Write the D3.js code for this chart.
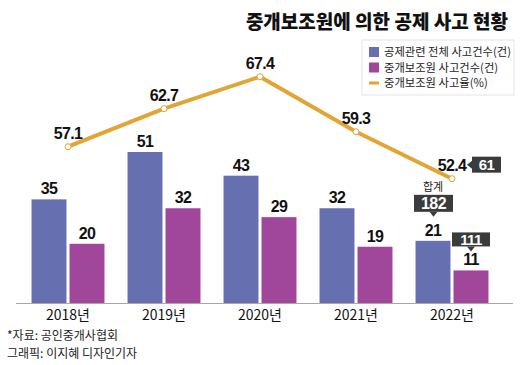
<!DOCTYPE html>
<html>
<head>
<meta charset="utf-8">
<script src="https://cdn.jsdelivr.net/npm/d3@7"></script>
<style>
  body { margin: 0; background: #fff; }
  svg { display: block; }
  .num { font-family: "Liberation Sans Narrow", "Liberation Sans", Arial, sans-serif; font-weight: bold; letter-spacing: -0.6px; }
  .kr { font-family: "Noto Sans CJK KR", sans-serif; }
</style>
</head>
<body>
<script>
(function (d3) {
  "use strict";

  /***** Données *****/
  var years = ["2018년", "2019년", "2020년", "2021년", "2022년"];
  var seriesNames = ["공제관련 전체 사고건수(건)", "중개보조원 사고건수(건)"];
  var totalCases = [35, 51, 43, 32, 21];
  var brokerCases = [20, 32, 29, 19, 11];
  var rateNames = ["중개보조원 사고율(%)"];
  var accidentRate = [57.1, 62.7, 67.4, 59.3, 52.4];
  // annotations on the last year
  var rateCallout = 61;
  var sumLabel = "합계";
  var sumTotal = 182;
  var sumBroker = 111;

  /***** Configuration *****/
  var width = 520, height = 365;
  var baseY = 303;
  var colors = ["#6670b0", "#a0479b"];
  var lineColor = "#e2a534";
  var calloutColor = "#3b3b3b";

  /***** Échelles *****/
  var x0 = d3.scaleBand().domain(years).range([20, 500]).paddingInner(0.24).paddingOuter(0.12);
  var x1 = d3.scaleBand().domain(seriesNames).range([0, x0.bandwidth()]).paddingInner(0.08);
  var yBar = d3.scaleLinear().domain([0, 51]).range([baseY, 152]);
  var yRate = d3.scaleLinear().domain([50, 70]).range([195, 59]);

  var svg = d3.select("body").append("svg")
      .attr("width", width)
      .attr("height", height);

  /***** Titre *****/
  svg.append("text")
      .attr("class", "kr")
      .attr("x", 508).attr("y", 29)
      .attr("text-anchor", "end")
      .attr("font-size", 19)
      .attr("font-weight", 900)
      .attr("fill", "#111")
      .text("중개보조원에 의한 공제 사고 현황");

  /***** Légende *****/
  var legend = svg.append("g").attr("transform", "translate(362,40)");
  legend.append("rect")
      .attr("x", 0).attr("y", 0).attr("width", 152).attr("height", 55)
      .attr("fill", "#fff").attr("stroke", "#e4e4e4");
  var legendItems = seriesNames.concat(rateNames);
  legendItems.forEach(function (name, i) {
    var g = legend.append("g").attr("transform", "translate(7," + (12 + i * 15.5) + ")");
    if (i < 2) {
      g.append("rect").attr("x", 0).attr("y", -5).attr("width", 10).attr("height", 10).attr("fill", colors[i]);
    } else {
      g.append("rect").attr("x", 0).attr("y", -1.5).attr("width", 10).attr("height", 3).attr("fill", lineColor);
    }
    g.append("text")
        .attr("class", "kr")
        .attr("x", 15).attr("y", 4)
        .attr("font-size", 11.3)
        .attr("fill", "#222")
        .text(name);
  });

  /***** Barres *****/
  var groups = svg.append("g").selectAll("g")
      .data(years)
      .join("g")
      .attr("transform", function (d) { return "translate(" + x0(d) + ",0)"; });

  var barData = function (d, i) {
    return [
      { key: seriesNames[0], value: totalCases[i], c: 0 },
      { key: seriesNames[1], value: brokerCases[i], c: 1 }
    ];
  };

  groups.selectAll("rect")
      .data(barData)
      .join("rect")
      .attr("x", function (d) { return x1(d.key); })
      .attr("y", function (d) { return yBar(d.value); })
      .attr("width", x1.bandwidth())
      .attr("height", function (d) { return baseY - yBar(d.value); })
      .attr("fill", function (d) { return colors[d.c]; });

  groups.selectAll("text.val")
      .data(barData)
      .join("text")
      .attr("class", "val num")
      .attr("x", function (d) { return x1(d.key) + x1.bandwidth() / 2; })
      .attr("y", function (d) { return yBar(d.value) - 5; })
      .attr("text-anchor", "middle")
      .attr("font-size", 16)
      .attr("fill", "#111")
      .text(function (d) { return d.value; });

  /***** Axe *****/
  svg.append("line")
      .attr("x1", 16).attr("x2", 513)
      .attr("y1", baseY + 0.5).attr("y2", baseY + 0.5)
      .attr("stroke", "#a8a8a8");

  var xAxis = d3.axisBottom(x0).tickSize(0).tickPadding(0);
  var axisG = svg.append("g")
      .attr("transform", "translate(0," + baseY + ")")
      .call(xAxis);
  axisG.select(".domain").remove();
  axisG.selectAll("text")
      .attr("dy", 17)
      .attr("font-size", 14)
      .attr("fill", "#111")
      .style("font-family", "\"Liberation Sans Narrow\", \"Noto Sans CJK KR\", sans-serif");

  /***** Ligne *****/
  var cx = function (d, i) { return x0(years[i]) + x0.bandwidth() / 2; };
  var line = d3.line()
      .x(function (d, i) { return cx(d, i); })
      .y(function (d) { return yRate(d); });

  svg.append("path")
      .datum(accidentRate)
      .attr("d", line)
      .attr("fill", "none")
      .attr("stroke", lineColor)
      .attr("stroke-width", 4)
      .attr("stroke-linejoin", "round");

  svg.selectAll("circle.pt")
      .data(accidentRate)
      .join("circle")
      .attr("class", "pt")
      .attr("cx", cx)
      .attr("cy", function (d) { return yRate(d); })
      .attr("r", 3)
      .attr("fill", "#fff")
      .attr("stroke", lineColor)
      .attr("stroke-width", 1);

  svg.selectAll("text.rate")
      .data(accidentRate)
      .join("text")
      .attr("class", "rate num")
      .attr("x", cx)
      .attr("y", function (d) { return yRate(d) - 8; })
      .attr("text-anchor", "middle")
      .attr("font-size", 16)
      .attr("fill", "#111")
      .text(function (d) { return d.toFixed(1); });

  /***** Annotations 2022 *****/
  var last = years.length - 1;
  var lastX = x0(years[last]);
  var px = cx(null, last), py = yRate(accidentRate[last]);

  function callout(x, y, w, h, dir, label, size) {
    var g = svg.append("g");
    var arrow;
    if (dir === "left") {
      arrow = [[x, y + h / 2 - 4], [x - 5, y + h / 2], [x, y + h / 2 + 4]];
    } else {
      arrow = [[x + w / 2 - 4, y + h], [x + w / 2, y + h + 5], [x + w / 2 + 4, y + h]];
    }
    g.append("rect").attr("x", x).attr("y", y).attr("width", w).attr("height", h).attr("fill", calloutColor);
    g.append("path").attr("d", d3.line()(arrow) + "Z").attr("fill", calloutColor);
    g.append("text")
        .attr("class", "num")
        .attr("x", x + w / 2).attr("y", y + h / 2 + size * 0.36)
        .attr("text-anchor", "middle")
        .attr("font-size", size)
        .attr("fill", "#fff")
        .text(label);
  }

  callout(px + 20, py - 22, 29, 16, "left", rateCallout, 15);

  var bx = lastX + x1(seriesNames[0]) + x1.bandwidth() / 2;
  var by = yBar(totalCases[last]);
  callout(bx - 19, by - 46, 39, 17, "down", sumTotal, 16);
  svg.append("text")
      .attr("class", "kr")
      .attr("x", bx).attr("y", by - 50)
      .attr("text-anchor", "middle")
      .attr("font-size", 11)
      .attr("fill", "#222")
      .text(sumLabel);

  var mx = lastX + x1(seriesNames[1]) + x1.bandwidth() / 2;
  var my = yBar(brokerCases[last]);
  callout(mx - 19, my - 38, 38, 14, "down", sumBroker, 15);

  /***** Source *****/
  svg.append("text").attr("class", "kr")
      .attr("x", 7).attr("y", 339.5).attr("font-size", 12).attr("fill", "#222")
      .text("*자료: 공인중개사협회");
  svg.append("text").attr("class", "kr")
      .attr("x", 7).attr("y", 357.5).attr("font-size", 12).attr("fill", "#222")
      .text("그래픽: 이지혜 디자인기자");

})(d3);
</script>
</body>
</html>
